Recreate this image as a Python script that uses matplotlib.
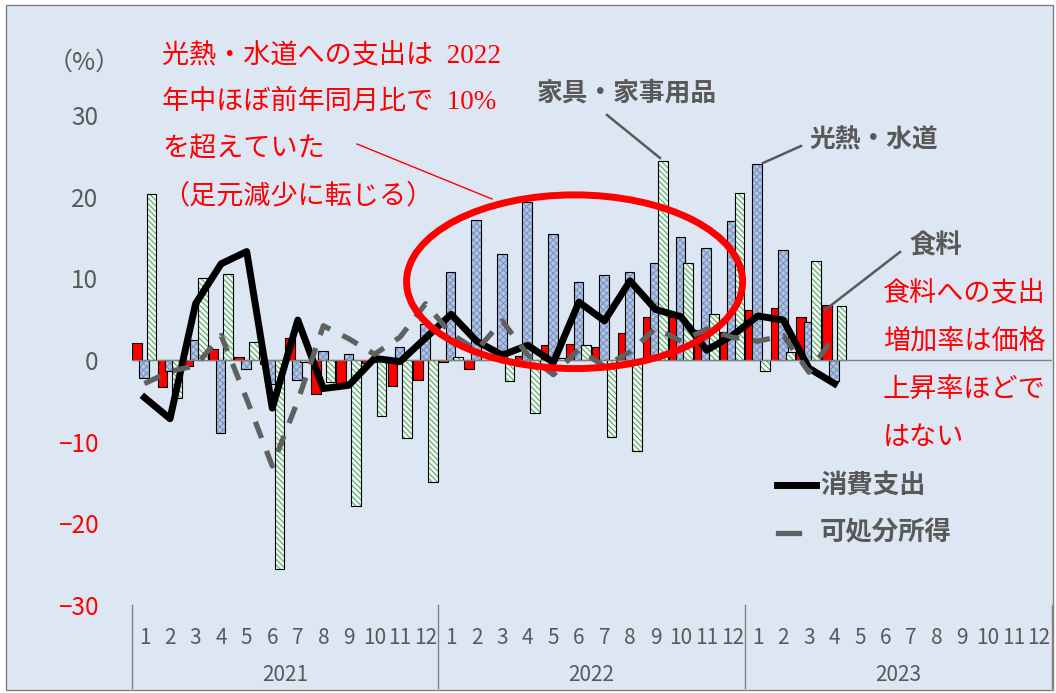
import matplotlib
matplotlib.use('Agg')
import matplotlib.pyplot as plt
import matplotlib.transforms as mtransforms
from matplotlib.patches import Ellipse, Rectangle
from matplotlib.lines import Line2D
import numpy as np

plt.rcParams['font.family'] = ['Noto Sans CJK JP', 'DejaVu Sans']
plt.rcParams['hatch.linewidth'] = 0.8

# Categories
years = ['2021', '2022', '2023']
months = [str(m) for m in range(1, 13)]

# Year-on-year change (%), 2021-1 .. 2023-4
food = [2.1, -3.3, -0.7, 1.4, 0.4, -0.5, 2.7, -4.2, -3.4, -0.4, -3.2, -2.5,
        -0.3, -1.1, 0.3, 0.5, 1.9, 2.0, 1.6, 3.3, 5.3, 5.3, 3.7, 3.4,
        6.1, 6.4, 5.3, 6.8]
utilities = [-2.2, -1.4, 2.4, -8.9, -1.1, -3.0, -2.4, 1.1, 0.7, -0.3, 1.6, 4.4,
             10.8, 17.2, 13.0, 19.4, 15.4, 9.6, 10.4, 10.8, 11.9, 15.1, 13.7, 17.0,
             24.1, 13.5, 4.7, -2.6]
furniture = [20.4, -4.7, 10.1, 10.6, 2.2, -25.6, -0.3, -2.7, -17.9, -6.9, -9.6, -15.0,
             0.4, 0.0, -2.6, -6.5, 0.3, 1.8, -9.4, -11.2, 24.4, 11.9, 5.7, 20.5,
             -1.3, 1.0, 12.2, 6.6]
spending = [-4.6, -7.2, 6.9, 11.8, 13.3, -5.9, 4.9, -3.5, -3.1, 0.2, -0.2, 2.7,
            5.6, 2.3, 0.6, 1.8, -0.3, 7.1, 4.8, 9.7, 6.2, 5.3, 1.2, 3.0,
            5.4, 4.9, -1.0, -2.9]
income = [-2.9, -1.4, -0.7, 3.0, -4.8, -13.0, -5.0, 4.2, 2.6, 0.7, 2.8, 6.9,
          3.2, 1.2, 4.8, 0.6, -1.8, 1.3, -0.8, 1.0, 3.9, 2.3, 3.8, 2.8,
          2.3, 3.0, -1.5, 3.0]

W, H = 1056, 693
gray = '#595959'
red = '#ff0000'
note_font = ['Liberation Serif', 'Noto Sans CJK JP']

fig = plt.figure(figsize=(W / 100, H / 100), dpi=100)
fig.patch.set_facecolor('white')
fig.patches.append(Rectangle((6 / W, 1 - 690 / H), (1053 - 6) / W, (690 - 5) / H,
                             transform=fig.transFigure, facecolor='#dde7f4',
                             edgecolor='#7f7f7f', lw=1, zorder=-10))

ax = fig.add_axes([131.7 / W, 1 - 604.6 / H, 920 / W, 489.2 / H])
ax.set_facecolor('none')

x = np.arange(len(food))
bw = 0.38

# bars: fill + hatch first, then black outline
ax.bar(x - 0.3, food, bw, color=red, edgecolor='black', lw=0.8, zorder=1)
ax.bar(x - 0.02, utilities, bw, color='#b2c4e4', edgecolor='#7c95c3', hatch='xxxxx', lw=0, zorder=1.1)
ax.bar(x - 0.02, utilities, bw, fill=False, edgecolor='black', lw=0.8, zorder=1.2)
ax.bar(x + 0.28, furniture, bw, color='#f4faf2', edgecolor='#4faa6c', hatch='\\\\\\\\\\\\', lw=0, zorder=1.3)
ax.bar(x + 0.28, furniture, bw, fill=False, edgecolor='black', lw=0.8, zorder=1.4)

ax.axhline(0, color='#808080', lw=1.0, zorder=1.5)

ax.plot(x, spending, color='black', lw=5, zorder=3)
ax.plot(x, income, color='#606060', lw=3.8, dashes=(3.3, 2.6), zorder=3)

ax.set_xlim(-0.5, 35.5)
ax.set_ylim(-30, 30)
for s in ax.spines.values():
    s.set_visible(False)

ax.set_xticks(range(36))
ax.set_xticklabels(months * 3)
ax.tick_params(axis='x', length=0, pad=16, labelsize=15, labelcolor=gray)

yt = list(range(-30, 31, 10))
ax.set_yticks(yt)
ax.set_yticklabels([str(v) if v >= 0 else '−' + str(-v) for v in yt])
ax.tick_params(axis='y', length=0, pad=24, labelsize=17.5)
for lab, v in zip(ax.get_yticklabels(), yt):
    lab.set_color(gray if v >= 0 else red)

trans = mtransforms.blended_transform_factory(ax.transData, ax.transAxes)
for k, yr in enumerate(years):
    ax.text(k * 12 + 5.5, -0.144, yr, transform=trans, ha='center', va='center',
            fontsize=15, color=gray)
for xs in [-0.5, 11.5, 23.5, 35.5]:
    ax.plot([xs, xs], [0, -0.17], transform=trans, color='#808080', lw=1, clip_on=False)

# red ellipse around 2022 utilities
ax.add_patch(Ellipse((16.83, 9.6), 13.15, 21.3, fill=False, edgecolor=red,
                     lw=5, zorder=5, clip_on=False))


def fx(px):
    return px / W


def fy(py):
    return 1 - py / H


def fline(p0, p1, color, lw):
    fig.lines.append(Line2D([fx(p0[0]), fx(p1[0])], [fy(p0[1]), fy(p1[1])],
                            transform=fig.transFigure, color=color, lw=lw))


fig.text(fx(84), fy(63), '（%）', ha='center', va='center', fontsize=18, color=gray)

red_lines = ['光熱・水道への支出は  2022', '年中ほぼ前年同月比で  10%', 'を超えていた', '（足元減少に転じる）']
for t, yy in zip(red_lines, [55, 102, 150, 197]):
    fig.text(fx(162), fy(yy), t, ha='left', va='center', fontsize=19.5, color=red,
             family=note_font)
fline((357, 144), (492, 199), red, 1.0)

fig.text(fx(537), fy(93), '家具・家事用品', ha='left', va='center', fontsize=18.5,
         color=gray, fontweight='bold')
fline((607, 115), (660, 158), gray, 1.8)
fig.text(fx(809), fy(140), '光熱・水道', ha='left', va='center', fontsize=18.5,
         color=gray, fontweight='bold')
fline((763, 163), (801, 146), gray, 1.8)
fig.text(fx(909), fy(246), '食料', ha='left', va='center', fontsize=19,
         color=gray, fontweight='bold')
fline((825, 310), (900, 252), gray, 1.8)

food_note = ['食料への支出', '増加率は価格', '上昇率ほどで', 'はない']
for t, yy in zip(food_note, [293, 342, 390, 437]):
    fig.text(fx(883), fy(yy), t, ha='left', va='center', fontsize=19.5, color=red)

# legend
fig.lines.append(Line2D([fx(777), fx(816)], [fy(485), fy(485)], transform=fig.transFigure,
                        color='black', lw=5))
fig.text(fx(820), fy(485), '消費支出', ha='left', va='center', fontsize=19,
         color=gray, fontweight='bold')
fig.lines.append(Line2D([fx(778), fx(799)], [fy(533), fy(533)], transform=fig.transFigure,
                        color='#606060', lw=3.8))
fig.text(fx(820), fy(533), '可処分所得', ha='left', va='center', fontsize=19,
         color=gray, fontweight='bold')

fig.savefig('out.png', dpi=100)
